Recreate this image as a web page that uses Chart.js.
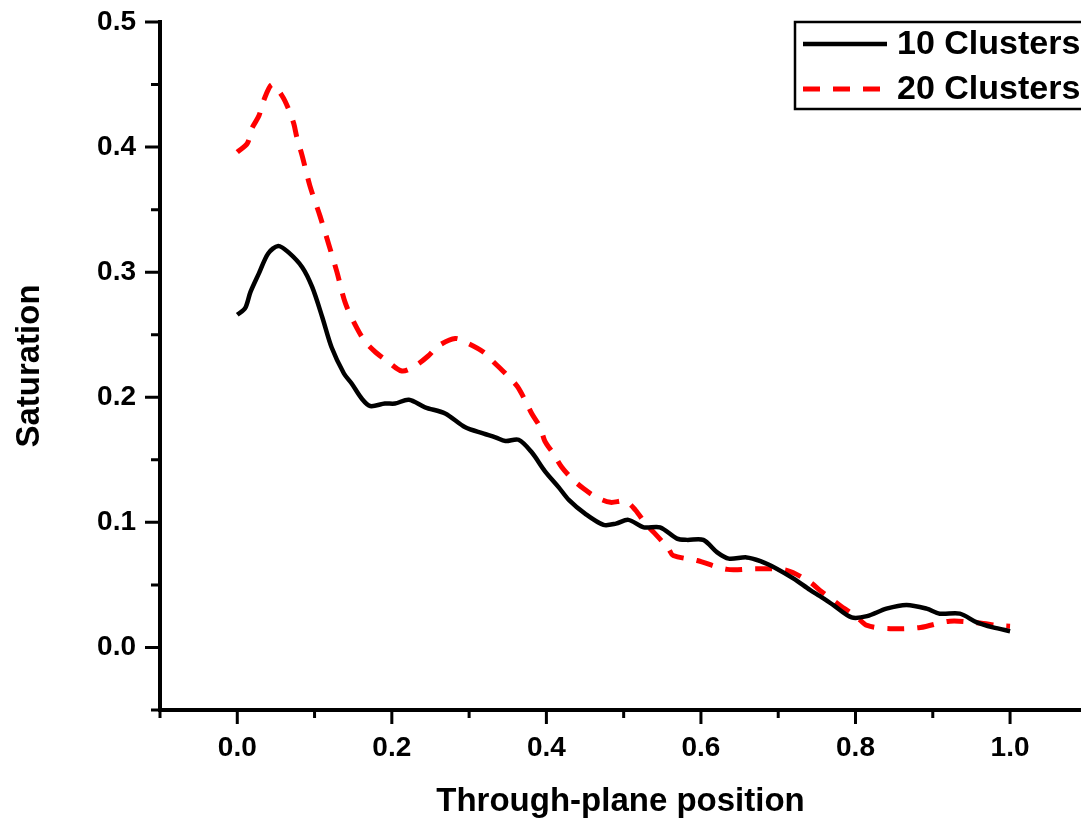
<!DOCTYPE html>
<html>
<head>
<meta charset="utf-8">
<script src="https://cdn.jsdelivr.net/npm/chart.js@4.4.1/dist/chart.umd.min.js"></script>
<style>
  html, body { margin: 0; padding: 0; background: #fff; overflow: hidden; }
  #wrap { width: 1081px; height: 822px; position: relative; }
</style>
</head>
<body>
<div id="wrap"><canvas id="chart" width="1081" height="822"></canvas></div>
<script>
// Through-plane position (x) and saturation (y)
const tenX = [0.000, 0.010, 0.017, 0.028, 0.040, 0.053, 0.066, 0.084, 0.097, 0.110,
  0.122, 0.138, 0.148, 0.161, 0.172, 0.191, 0.204, 0.222, 0.243, 0.269,
  0.295, 0.319, 0.334, 0.347, 0.364, 0.381, 0.398, 0.416, 0.429, 0.450,
  0.474, 0.490, 0.506, 0.526, 0.547, 0.569, 0.582, 0.603, 0.621, 0.636,
  0.659, 0.677, 0.698, 0.720, 0.741, 0.754, 0.771, 0.795, 0.815, 0.840,
  0.866, 0.892, 0.909, 0.935, 0.957, 0.978, 1.000];
const tenY = [0.266, 0.271, 0.284, 0.299, 0.315, 0.321, 0.316, 0.304, 0.288, 0.264,
  0.240, 0.219, 0.211, 0.199, 0.193, 0.195, 0.195, 0.198, 0.192, 0.187,
  0.176, 0.171, 0.168, 0.165, 0.166, 0.156, 0.141, 0.128, 0.118, 0.107,
  0.098, 0.099, 0.102, 0.096, 0.096, 0.087, 0.086, 0.086, 0.076, 0.071,
  0.072, 0.069, 0.063, 0.055, 0.046, 0.041, 0.034, 0.024, 0.025, 0.031,
  0.034, 0.031, 0.027, 0.027, 0.020, 0.016, 0.013];

const twentyX = [0.000, 0.013, 0.019, 0.028, 0.034, 0.045, 0.058, 0.066, 0.073, 0.077,
  0.084, 0.094, 0.107, 0.118, 0.129, 0.140, 0.155, 0.166, 0.179, 0.194,
  0.213, 0.230, 0.247, 0.260, 0.282, 0.299, 0.319, 0.332, 0.347, 0.362,
  0.373, 0.381, 0.392, 0.398, 0.409, 0.420, 0.433, 0.448, 0.465, 0.483,
  0.502, 0.515, 0.530, 0.539, 0.558, 0.564, 0.595, 0.634, 0.672, 0.711,
  0.741, 0.754, 0.780, 0.802, 0.815, 0.845, 0.884, 0.922, 0.961, 0.983, 1.000];
const twentyY = [0.396, 0.403, 0.415, 0.425, 0.437, 0.450, 0.441, 0.431, 0.419, 0.408,
  0.393, 0.369, 0.345, 0.323, 0.300, 0.275, 0.255, 0.244, 0.236, 0.229,
  0.221, 0.225, 0.233, 0.241, 0.247, 0.243, 0.236, 0.228, 0.219, 0.209,
  0.197, 0.187, 0.176, 0.165, 0.155, 0.144, 0.135, 0.127, 0.120, 0.116,
  0.117, 0.110, 0.0975, 0.092, 0.079, 0.0735, 0.0695, 0.0624, 0.063, 0.0616,
  0.0522, 0.0456, 0.0336, 0.0242, 0.0176, 0.015, 0.016, 0.021, 0.0195, 0.0176, 0.017];

const seriesNames = ['10 Clusters', '20 Clusters'];

// tick values
const xMajor = [0.0, 0.2, 0.4, 0.6, 0.8, 1.0];
const xMinor = [-0.1, 0.1, 0.3, 0.5, 0.7, 0.9];
const xTickLabels = ['0.0', '0.2', '0.4', '0.6', '0.8', '1.0'];
const yMajor = [0.0, 0.1, 0.2, 0.3, 0.4, 0.5];
const yMinor = [-0.05, 0.05, 0.15, 0.25, 0.35, 0.45];
const yTickLabels = ['0.0', '0.1', '0.2', '0.3', '0.4', '0.5'];

const FONT = "'Liberation Sans', Arial, Helvetica, sans-serif";

const toPoints = (xs, ys) => xs.map((x, i) => ({ x: x, y: ys[i] }));

// tick marks: long majors, short minors, pointing outward
const tickMarks = {
  id: 'tickMarks',
  afterDraw(chart) {
    const ctx = chart.ctx;
    const xs = chart.scales.x;
    const ys = chart.scales.y;
    const area = chart.chartArea;
    ctx.save();
    ctx.strokeStyle = '#000';
    ctx.lineWidth = 3;
    ctx.beginPath();
    xMajor.forEach(v => {
      const px = xs.getPixelForValue(v);
      ctx.moveTo(px, area.bottom); ctx.lineTo(px, area.bottom + 14);
    });
    xMinor.forEach(v => {
      const px = xs.getPixelForValue(v);
      ctx.moveTo(px, area.bottom); ctx.lineTo(px, area.bottom + 8);
    });
    yMajor.forEach(v => {
      const py = ys.getPixelForValue(v);
      ctx.moveTo(area.left, py); ctx.lineTo(area.left - 15, py);
    });
    yMinor.forEach(v => {
      const py = ys.getPixelForValue(v);
      ctx.moveTo(area.left, py); ctx.lineTo(area.left - 9, py);
    });
    ctx.stroke();
    ctx.restore();
  }
};

// boxed legend in the top right corner
const boxLegend = {
  id: 'boxLegend',
  afterDraw(chart) {
    const ctx = chart.ctx;
    const sets = chart.data.datasets;
    ctx.save();
    ctx.strokeStyle = '#000';
    ctx.lineWidth = 2.5;
    ctx.strokeRect(795, 22, 300, 87);
    ctx.font = 'bold 34px ' + FONT;
    ctx.textBaseline = 'middle';
    ctx.fillStyle = '#000';
    sets.forEach((ds, i) => {
      const y = 44 + i * 45;
      ctx.beginPath();
      ctx.strokeStyle = ds.borderColor;
      ctx.lineWidth = ds.borderWidth;
      ctx.setLineDash(ds.borderDash || []);
      ctx.moveTo(803, y); ctx.lineTo(887, y);
      ctx.stroke();
      ctx.setLineDash([]);
      ctx.fillText(ds.label, 897, y + 1);
    });
    ctx.restore();
  }
};

new Chart(document.getElementById('chart'), {
  type: 'line',
  data: {
    datasets: [
      {
        label: seriesNames[0],
        data: toPoints(tenX, tenY),
        borderColor: '#000000',
        borderWidth: 4.5,
        pointRadius: 0,
        tension: 0.3,
        fill: false
      },
      {
        label: seriesNames[1],
        data: toPoints(twentyX, twentyY),
        borderColor: '#ff0000',
        borderWidth: 5,
        borderDash: [17, 13],
        pointRadius: 0,
        tension: 0.3,
        fill: false
      }
    ]
  },
  options: {
    responsive: false,
    animation: false,
    devicePixelRatio: 1,
    layout: { padding: { top: 22, right: 0, left: 0, bottom: 0 } },
    plugins: {
      legend: { display: false },
      tooltip: { enabled: false }
    },
    scales: {
      x: {
        type: 'linear',
        min: -0.1,
        max: 1.0918,
        afterFit: (s) => { s.height = 112; s.paddingLeft = 0; s.paddingRight = 0; },
        afterBuildTicks: (s) => { s.ticks = xMajor.map(v => ({ value: v })); },
        grid: { display: false, drawTicks: false },
        border: { display: true, color: '#000', width: 4 },
        ticks: {
          padding: 21,
          color: '#000',
          font: { family: FONT, size: 28, weight: 'bold' },
          maxRotation: 0,
          callback: (v, i) => xTickLabels[i]
        },
        title: {
          display: true,
          text: 'Through-plane position',
          color: '#000',
          font: { family: FONT, size: 33, weight: 'bold' },
          padding: { top: 16, bottom: 0 }
        }
      },
      y: {
        type: 'linear',
        min: -0.05,
        max: 0.5,
        afterFit: (s) => { s.width = 160; s.paddingTop = 0; s.paddingBottom = 0; },
        afterBuildTicks: (s) => { s.ticks = yMajor.map(v => ({ value: v })); },
        grid: { display: false, drawTicks: false },
        border: { display: true, color: '#000', width: 4 },
        ticks: {
          padding: 24,
          color: '#000',
          font: { family: FONT, size: 28, weight: 'bold' },
          callback: (v, i) => yTickLabels[i]
        },
        title: {
          display: true,
          text: 'Saturation',
          color: '#000',
          font: { family: FONT, size: 33, weight: 'bold' },
          padding: { top: 10, bottom: 0 }
        }
      }
    }
  },
  plugins: [tickMarks, boxLegend]
});
</script>
</body>
</html>
